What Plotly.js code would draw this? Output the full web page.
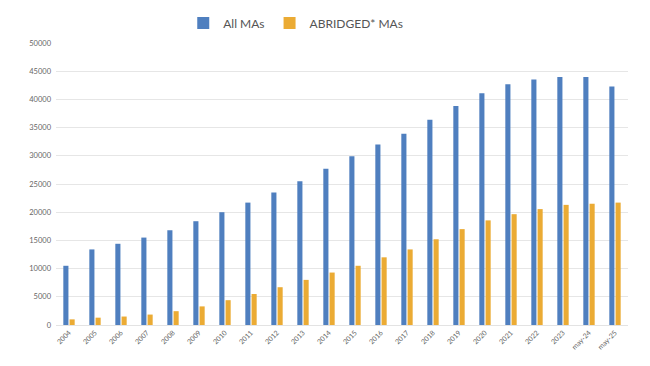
<!DOCTYPE html>
<html>
<head>
<meta charset="utf-8">
<script src="https://cdn.plot.ly/plotly-3.0.1.min.js"></script>
<style>html,body{margin:0;padding:0;background:#fff;}#chart{width:650px;height:366px;}</style>
</head>
<body>
<div id="chart"></div>
<script>
var categories = ["2004","2005","2006","2007","2008","2009","2010","2011","2012","2013","2014","2015","2016","2017","2018","2019","2020","2021","2022","2023","may-24","may-25"];
var allMAs = [10500,13400,14400,15500,16800,18400,20000,21700,23500,25500,27700,29900,32000,33900,36400,38850,41100,42700,43550,43950,43950,42300];
var abridgedMAs = [1000,1300,1500,1850,2450,3300,4400,5500,6700,8000,9300,10500,12000,13400,15200,17000,18550,19650,20550,21300,21500,21700];
var yTicks = [0,5000,10000,15000,20000,25000,30000,35000,40000,45000,50000];

var traces = [
  {type:"bar", name:"All MAs", x:categories, y:allMAs, marker:{color:"#4f7fbf"}},
  {type:"bar", name:"ABRIDGED* MAs", x:categories, y:abridgedMAs, marker:{color:"#ebab34"}}
];
var layout = {
  width:650, height:366,
  margin:{l:56, r:22, t:43, b:41},
  paper_bgcolor:"#fff", plot_bgcolor:"#fff",
  font:{family:"Lato, 'Open Sans', sans-serif", color:"#595959"},
  barmode:"group", bargap:0.52, bargroupgap:0.18,
  showlegend:true,
  legend:{orientation:"h", xref:"container", yref:"container", x:0.455, xanchor:"center", y:1-23/366, yanchor:"middle", font:{size:12, color:"#555"}, itemwidth:30, traceorder:"normal"},
  xaxis:{type:"category", tickangle:-45, tickfont:{size:7, color:"#666"}, showgrid:false, showline:true, linecolor:"#e3e3e3", linewidth:1, ticks:"", automargin:false},
  yaxis:{range:[0,50000], tickvals:yTicks, ticktext:yTicks.map(String), tickfont:{size:7.5, color:"#666"}, ticklabelstandoff:4, showgrid:true, gridcolor:"#e6e6e6", gridwidth:1, zeroline:true, zerolinecolor:"#e3e3e3", showline:false, ticks:"", ticklen:0, automargin:false}
};
Plotly.newPlot("chart", traces, layout, {displayModeBar:false, staticPlot:true});
</script>
</body>
</html>
